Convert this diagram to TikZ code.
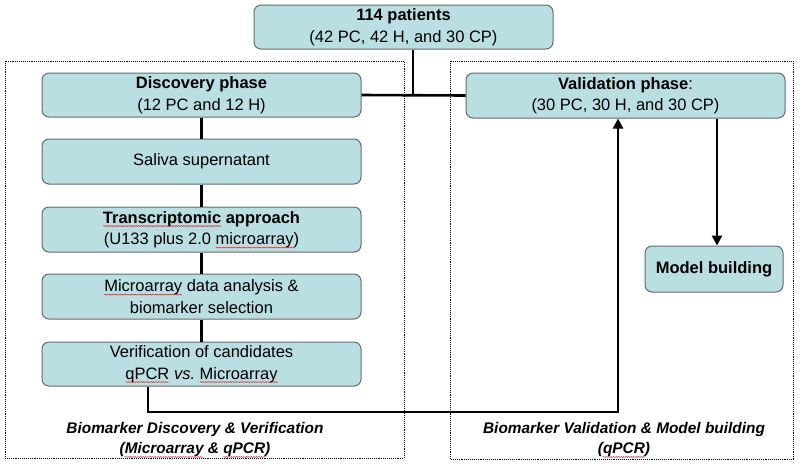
\documentclass[tikz,border=0pt]{standalone}
\usepackage{fontspec}
\setmainfont{Liberation Sans}
\usetikzlibrary{positioning, arrows.meta, calc, decorations.pathmorphing}

\definecolor{boxfill}{RGB}{185,223,226}
\definecolor{boxline}{RGB}{105,105,105}

% red spell-check wave under a word
\newcommand\spellwave[1]{\tikz[reset cm, baseline=(w.base)]{\node[draw=none, fill=none, minimum width=0pt, minimum height=0pt, inner sep=0pt, outer sep=0pt] (w) {#1};
	\draw[overlay, red, line width=0.4pt, rounded corners=0pt, decorate, decoration={snake, amplitude=0.5pt, segment length=2.5pt}] ([yshift=-3pt]w.base west) -- ([yshift=-3pt]w.base east);}}

\begin{document}
\begin{tikzpicture}[x=1pt,y=1pt,yscale=-1,xscale=1,
	phase/.style={draw=boxline, fill=boxfill, line width=1pt, rounded corners=7pt, align=center, inner sep=0pt, font=\fontsize{16.5}{21.5}\selectfont},
	link/.style={line width=2.6pt},
	tip/.style={-{Triangle[length=10pt,width=10pt]}},
	frame/.style={densely dotted, line width=0.9pt},
	caption/.style={align=center, font=\fontsize{15.4}{20}\selectfont\bfseries\itshape}]
	\useasboundingbox (0,0) rectangle (800,467);
	
	%Dotted frames
	\draw [frame] (5,61) rectangle (404,458);
	\draw [frame] (450,61) rectangle (793,459);
	
	%Boxes
	\node [phase, minimum width=299pt, minimum height=44pt] (patients) at (403.5,27) {\textbf{114 patients}\\(42 PC, 42 H, and 30 CP)};
	\node [phase, minimum width=319pt, minimum height=44pt] (discovery) at (201.5,95) {\textbf{Discovery phase}\\(12 PC and 12 H)};
	\node [phase, minimum width=319pt, minimum height=45pt] (saliva) at (201.5,161.5) {Saliva supernatant};
	\node [phase, minimum width=319pt, minimum height=45pt] (transcript) at (201.5,229.5) {\textbf{\spellwave{Transcriptomic} approach}\\(U133 plus 2.0 \spellwave{microarray})};
	\node [phase, minimum width=319pt, minimum height=45pt] (analysis) at (201.5,296.5) {\spellwave{Microarray} data analysis \&\\biomarker selection};
	\node [phase, minimum width=319pt, minimum height=44pt] (verify) at (201.5,364) {Verification of candidates\\\spellwave{qPCR} \textit{vs.}\ \spellwave{Microarray}};
	\node [phase, minimum width=319pt, minimum height=45pt] (validation) at (625.5,95.5) {\textbf{Validation phase}:\\(30 PC, 30 H, and 30 CP)};
	\node [phase, minimum width=138pt, minimum height=46pt] (model) at (714,269) {\textbf{Model building}};
	
	%Connectors
	\coordinate (split) at (413,95);
	\coordinate (turn) at (618,412);
	\draw [link] (patients.south -| split) -- (split);
	\draw [link] (discovery.east) -- (validation.west);
	\draw [link] (discovery) -- (saliva);
	\draw [link] (saliva) -- (transcript);
	\draw [link] (transcript) -- (analysis);
	\draw [link] (analysis) -- (verify);
	\draw [link, tip] ([xshift=-53.5pt]verify.south) |- (turn) -- (validation.south -| turn);
	\draw [link, tip] ([xshift=3pt]validation.south -| model.north) -- ([xshift=3pt]model.north);
	
	% Text Node
	\node [caption] (leftcap) at (195,440) {Biomarker Discovery \& Verification\\(\spellwave{Microarray} \& \spellwave{qPCR})};
	% Text Node
	\node [caption] (rightcap) at (624,440) {Biomarker Validation \& Model building\\(\spellwave{qPCR})};
\end{tikzpicture}
\end{document}
